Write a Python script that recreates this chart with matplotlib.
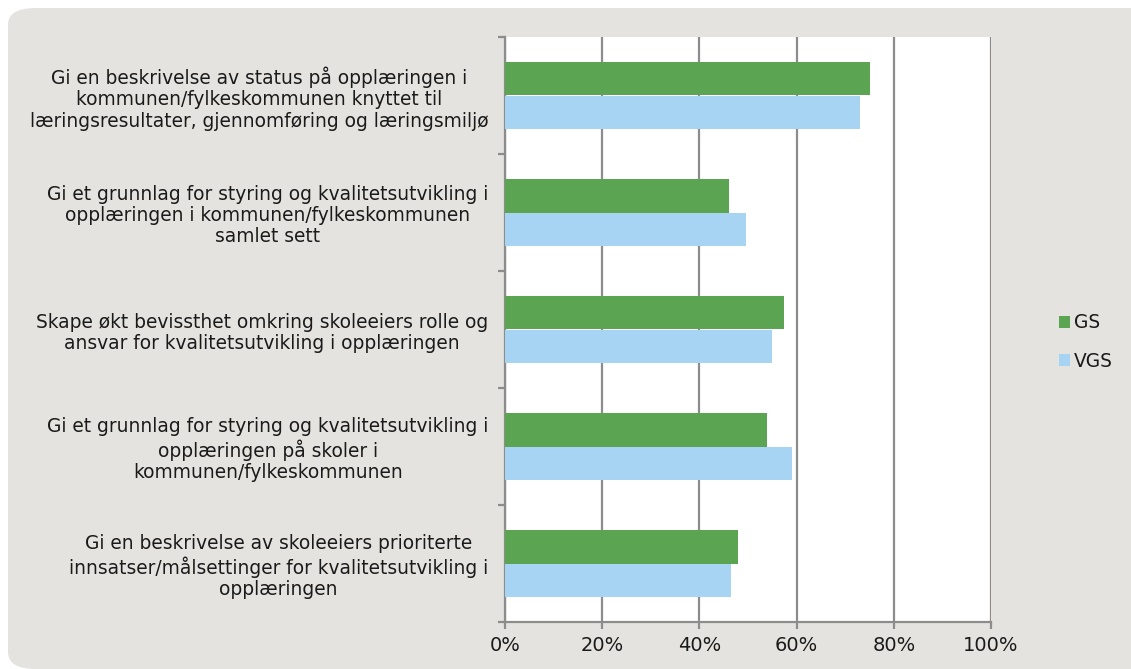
import matplotlib.pyplot as plt
import numpy as np
from matplotlib.patches import FancyBboxPatch

categories = [
    "Gi en beskrivelse av status på opplæringen i\nkommunen/fylkeskommunen knyttet til\nlæringsresultater, gjennomføring og læringsmiljø",
    "Gi et grunnlag for styring og kvalitetsutvikling i\nopplæringen i kommunen/fylkeskommunen\nsamlet sett",
    "Skape økt bevissthet omkring skoleeiers rolle og\nansvar for kvalitetsutvikling i opplæringen",
    "Gi et grunnlag for styring og kvalitetsutvikling i\nopplæringen på skoler i\nkommunen/fylkeskommunen",
    "Gi en beskrivelse av skoleeiers prioriterte\ninnsatser/målsettinger for kvalitetsutvikling i\nopplæringen",
]
gs = [0.75, 0.46, 0.575, 0.54, 0.48]
vgs = [0.73, 0.495, 0.55, 0.59, 0.465]
xticks = [0, 0.2, 0.4, 0.6, 0.8, 1.0]
xlabels = ["0%", "20%", "40%", "60%", "80%", "100%"]

green = "#5ba552"
blue = "#a8d4f4"
bg = "#e4e3df"
grid = "#8c8c8c"
txt = "#1a1a1a"

fig = plt.figure(figsize=(11.31, 6.69), dpi=100)
fig.patch.set_facecolor("white")
box = FancyBboxPatch((8 / 1131, 0.0), 1.2, 1 - 8 / 669, boxstyle="round,pad=0,rounding_size=0.025",
                     transform=fig.transFigure, facecolor=bg, edgecolor="none", zorder=-10)
fig.patches.append(box)

ax = fig.add_axes([505 / 1131, 1 - 622 / 669, 486 / 1131, 585 / 669])
ax.set_facecolor("white")

y = np.arange(len(categories))
h = 0.285
ax.barh(y - h / 2, gs, height=h, color=green, label="GS", zorder=3)
ax.barh(y + h / 2, vgs, height=h, color=blue, label="VGS", zorder=3)

ax.set_xlim(0, 1)
ax.set_ylim(len(categories) - 0.5, -0.5)
ax.set_xticks(xticks)
ax.set_xticklabels(xlabels, fontsize=14, color=txt)
ax.grid(axis="x", color=grid, linewidth=1.6, zorder=1)

ax.set_yticks(y)
ax.set_yticklabels(categories, fontsize=13.4, color=txt, multialignment="center",
                   linespacing=1.15)
ax.tick_params(axis="y", length=0, pad=12)
ax.set_yticks(np.arange(-0.5, len(categories) + 0.5, 1), minor=True)
ax.tick_params(axis="y", which="minor", length=5, color=grid, width=1.6)
ax.tick_params(axis="x", length=5, color=grid, width=1.6, pad=5)

for s in ["top", "right"]:
    ax.spines[s].set_visible(False)
for s in ["left", "bottom"]:
    ax.spines[s].set_color(grid)
    ax.spines[s].set_linewidth(1.6)

leg = fig.legend(loc="center left", bbox_to_anchor=(1059 / 1131, 1 - 342 / 669), frameon=False,
                 fontsize=13.4, handlelength=0.6, handleheight=0.6, handletextpad=0.2,
                 labelspacing=1.05, borderpad=0, borderaxespad=0)
for t in leg.get_texts():
    t.set_color(txt)

fig.savefig("out.png", dpi=100)
